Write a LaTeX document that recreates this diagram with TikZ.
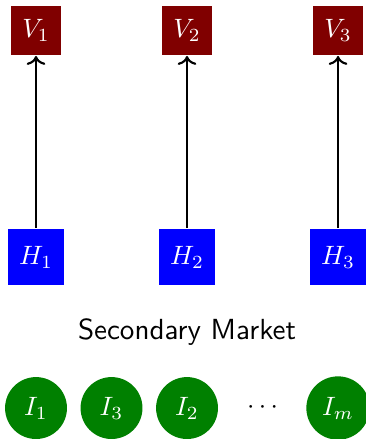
\documentclass[tikz,border=0pt]{standalone}
\usepackage{amsmath, amssymb}
\usetikzlibrary{arrows.meta, positioning}
\begin{document}
\begin{tikzpicture}[x=1cm, y=1cm,
    vbox/.style={fill=red!50!black, text=white, minimum size=.66cm, inner sep=0pt},
    hbox/.style={fill=blue, text=white, minimum size=.75cm, inner sep=0pt},
    inv/.style={circle, fill=green!50!black, text=white, minimum size=.82cm}]
  \useasboundingbox (-.477,.404) rectangle (4.358,-5.41);
  \foreach \k [count = \i] in {0, 2, 4}{
    \node[vbox] (v\i) at (\k, 0) {\(V_\i\)};
    \node[hbox] (h\i) at (\k, -3) {\(H_\i\)};
    \draw[->, thick] (h\i) -- (v\i);
    }
  \node[font=\sffamily\fontsize{10.95}{13}\selectfont] (market) at (2, -4) {Secondary Market};
  \node[inv] (i1) at (0, -5) {\(I_1\)};
  \node[inv] (i3) at (1, -5) {\(I_3\)};
  \node[inv] (i2) at (2, -5) {\(I_2\)};
  \node (dots) at (3, -5) {\(\cdots\)};
  \node[inv] (im) at (4, -5) {\(I_m\)};
\end{tikzpicture}
\end{document}
